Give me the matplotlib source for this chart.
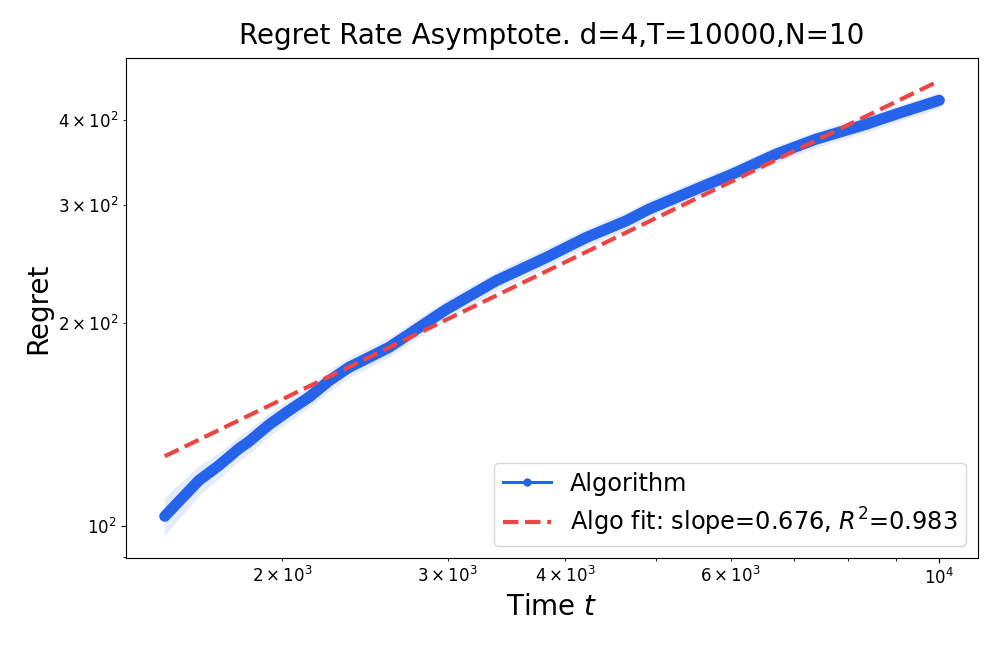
import numpy as np
import matplotlib
matplotlib.use('Agg')
import matplotlib.pyplot as plt

# values
t = [1501, 1632, 1714, 1800, 1845, 1938, 2035, 2137, 2245, 2357, 2475, 2599,
     2731, 2867, 2987, 3376, 3816, 4209, 4642, 4915, 5556, 6025, 6703, 7392,
     8356, 9069, 10000]
regret = [103.5, 117.0, 123.1, 130.4, 133.6, 141.5, 148.5, 155.4, 164.4, 172.1,
          178.0, 184.2, 192.8, 201.7, 209.5, 231.1, 250.2, 267.9, 283.6, 295.4,
          317.6, 332.8, 356.2, 374.9, 394.5, 410.0, 428.2]
regret_lo = [97.0, 111.2, 117.8, 125.1, 128.2, 136.1, 143.1, 149.9, 158.5, 166.1,
             172.0, 178.0, 186.5, 195.1, 202.6, 223.7, 242.2, 259.6, 274.8, 286.5,
             308.0, 323.1, 345.8, 364.3, 383.4, 398.8, 416.5]
regret_hi = [110.4, 123.1, 128.6, 135.9, 139.2, 147.2, 154.1, 161.1, 170.5, 178.3,
             184.2, 190.6, 199.4, 208.6, 216.6, 238.7, 258.5, 276.5, 292.7, 304.6,
             327.4, 342.8, 366.9, 385.8, 405.9, 421.5, 440.2]

fit_slope = 0.676
fit_r2 = 0.983
fit_coef = 0.905

blue = '#2563eb'
red = '#ef4444'

t_arr = np.array(t)
fit = fit_coef * t_arr ** fit_slope

fig = plt.figure(figsize=(9.97, 6.48), dpi=100)
ax = fig.add_axes([0.1264, 0.1389, 0.8546, 0.7716])

ax.fill_between(t, regret_lo, regret_hi, color=blue, alpha=0.12, linewidth=0)
# thick underlay stands in for the densely packed markers of the original
ax.plot(t, regret, color=blue, linewidth=8, solid_capstyle='round',
        solid_joinstyle='round')
ax.plot(t, regret, color=blue, linewidth=2.2, marker='o', markersize=5,
        label='Algorithm')
ax.plot(t, fit, color=red, linestyle='--', linewidth=3,
        label=f'Algo fit: slope={fit_slope:.3f}, $R^2$={fit_r2:.3f}')

ax.set_xscale('log')
ax.set_yscale('log')
ax.tick_params(axis='both', which='both', labelsize=12)

ax.set_title('Regret Rate Asymptote. d=4,T=10000,N=10', fontsize=20, pad=10)
ax.set_xlabel('Time $t$', fontsize=20)
ax.set_ylabel('Regret', fontsize=20)
ax.legend(loc='lower right', fontsize=17.3, labelspacing=0.4, borderpad=0.35)

plt.savefig('out.png', dpi=100)
plt.close()
